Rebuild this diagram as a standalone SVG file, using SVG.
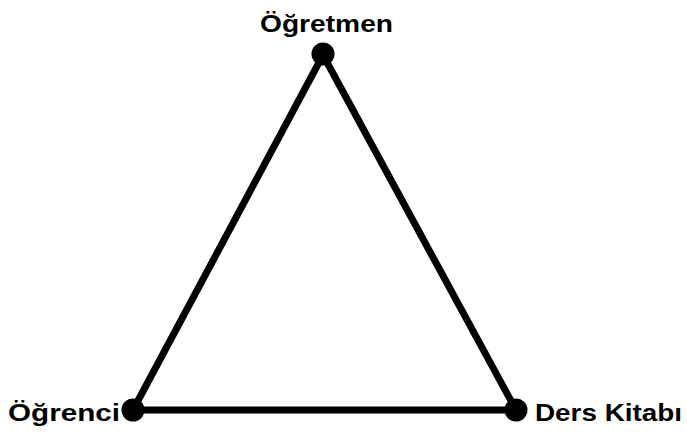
<svg xmlns="http://www.w3.org/2000/svg" width="687" height="434" viewBox="0 0 687 434">
<style>
.lbl{font-family:"Liberation Sans",Arial,sans-serif;font-weight:bold;font-size:23px;fill:#000}
.edge{stroke:#000;stroke-width:7;fill:none;stroke-linecap:round}
.dot{fill:#000}
</style>
<rect width="687" height="434" fill="#fff"/>
<g id="connectors">
<line class="edge" x1="323" y1="55" x2="133" y2="410"/>
<line class="edge" x1="323" y1="55" x2="516" y2="410"/>
<line class="edge" x1="133" y1="410" x2="516" y2="410"/>
</g>
<g id="ogretmen">
<circle class="dot" cx="323" cy="54" r="11.5"/>
<text class="lbl" x="260" y="32" textLength="133" lengthAdjust="spacingAndGlyphs">Öğretmen</text>
</g>
<g id="ogrenci">
<circle class="dot" cx="133" cy="410" r="11.5"/>
<text class="lbl" x="8" y="421" textLength="112" lengthAdjust="spacingAndGlyphs">Öğrenci</text>
</g>
<g id="ders-kitabi">
<circle class="dot" cx="516" cy="410" r="11.5"/>
<text class="lbl" x="535" y="421" textLength="147" lengthAdjust="spacingAndGlyphs">Ders Kitabı</text>
</g>
</svg>
